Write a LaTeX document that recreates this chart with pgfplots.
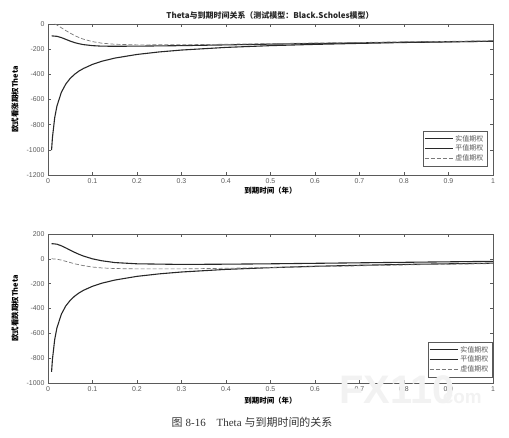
\documentclass[border=0pt]{standalone}
\usepackage{fontspec}
\setmainfont{Liberation Sans}
\newfontfamily\cjk{Noto Sans CJK SC}
\newfontfamily\capserif{Liberation Serif}
\usepackage{pgfplots}
\pgfplotsset{compat=1.18}

\definecolor{axgray}{RGB}{90,90,90}
\definecolor{curve}{RGB}{40,40,40}
\definecolor{dashgray}{RGB}{120,120,120}

\pgfplotsset{
  thetaax/.style={
    scale only axis,
    width=445bp,
    xmin=0, xmax=1,
    xtick={0,0.1,0.2,0.3,0.4,0.5,0.6,0.7,0.8,0.9,1},
    xticklabels={0,0.1,0.2,0.3,0.4,0.5,0.6,0.7,0.8,0.9,1},
    tick align=inside,
    major tick length=3bp,
    axis line style={axgray, line width=0.5pt},
    every tick/.style={axgray, line width=0.5pt},
    ticklabel style={font=\fontsize{7}{8}\selectfont, color=axgray},
    /pgf/number format/assume math mode=true,
    /pgf/number format/1000 sep={},
    x label style={at={(rel axis cs:0.5,0)}, anchor=center, font=\cjk\bfseries\fontsize{7.5}{8}\selectfont},
    y label style={at={(rel axis cs:0,0.5)}, anchor=center, rotate=0, yshift=33bp, font=\cjk\bfseries\fontsize{7.5}{8}\selectfont},
    xlabel={到期时间（年）},
    legend style={draw=axgray, line width=0.5pt, font=\cjk\fontsize{7}{8}\selectfont,
      cells={anchor=west}, row sep=-1.5pt, inner sep=1.5pt, text=axgray},
    legend image code/.code={\draw[#1] (0bp,0bp) -- (28bp,0bp);},
  }
}

\begin{document}
\begin{tikzpicture}[x=1bp,y=1bp]
\useasboundingbox (0,0) rectangle (509,-438);

\node[font=\cjk\bfseries\fontsize{8}{9}\selectfont, text=black!85] at (270,-15)
  {Theta与到期时间关系（测试模型：Black.Scholes模型）};

% upper panel: call theta
\begin{axis}[thetaax, height=151bp, at={(48bp,-24bp)}, anchor=north west,
  ymin=-1200, ymax=0, ytick={-1200,-1000,-800,-600,-400,-200,0},
  x label style={yshift=-16bp},
  ylabel={欧式看涨期权Theta},
  legend style={at={(1,0)}, anchor=south east, xshift=-6bp, yshift=9bp}]
\addplot[curve, line width=1.1pt] coordinates {
(0.008,-95) (0.01,-95) (0.02,-98) (0.03,-108) (0.04,-122) (0.05,-136)
(0.06,-148) (0.07,-157) (0.08,-164) (0.1,-172) (0.12,-176) (0.15,-177)
(0.2,-176) (0.3,-172) (0.4,-166) (0.5,-160) (0.6,-155) (0.7,-150)
(0.8,-145) (0.9,-141) (1,-137)};
\addlegendentry{实值期权}
\addplot[curve, line width=1.1pt] coordinates {
(0.008,-1002) (0.01,-902) (0.015,-746) (0.02,-653) (0.03,-543) (0.04,-477)
(0.05,-432) (0.06,-399) (0.07,-373) (0.08,-353) (0.1,-321) (0.12,-297)
(0.15,-271) (0.2,-242) (0.25,-222) (0.3,-207) (0.4,-186) (0.5,-172)
(0.6,-162) (0.7,-154) (0.8,-147) (0.9,-142) (1,-137)};
\addlegendentry{平值期权}
\addplot[dashgray, line width=0.7pt, dash pattern=on 4bp off 2bp] coordinates {
(0.015,0) (0.02,-8) (0.03,-30) (0.04,-52) (0.05,-73) (0.06,-92)
(0.07,-108) (0.08,-121) (0.1,-140) (0.12,-152) (0.15,-161) (0.2,-166)
(0.3,-165) (0.4,-161) (0.5,-156) (0.6,-151) (0.7,-147) (0.8,-142)
(0.9,-138) (1,-134)};
\addlegendentry{虚值期权}
\end{axis}

% lower panel: put theta
\begin{axis}[thetaax, height=149bp, at={(48bp,-234bp)}, anchor=north west,
  ymin=-1000, ymax=200, ytick={-1000,-800,-600,-400,-200,0,200},
  x label style={yshift=-18bp},
  ylabel={欧式看跌期权Theta},
  legend style={at={(1,0)}, anchor=south east, xshift=-1bp, yshift=6bp}]
\addplot[curve, line width=1.1pt] coordinates {
(0.008,120) (0.01,122) (0.02,118) (0.03,105) (0.04,88) (0.05,70)
(0.06,52) (0.07,36) (0.08,22) (0.1,0) (0.12,-15) (0.15,-30)
(0.2,-40) (0.3,-45) (0.4,-43) (0.5,-40) (0.6,-36) (0.7,-32)
(0.8,-28) (0.9,-24) (1,-20)};
\addlegendentry{实值期权}
\addplot[curve, line width=1.1pt] coordinates {
(0.008,-910) (0.01,-809) (0.015,-651) (0.02,-557) (0.03,-446) (0.04,-379)
(0.05,-334) (0.06,-300) (0.07,-274) (0.08,-253) (0.1,-221) (0.12,-197)
(0.15,-171) (0.2,-141) (0.25,-121) (0.3,-106) (0.4,-85) (0.5,-71)
(0.6,-60) (0.7,-52) (0.8,-45) (0.9,-40) (1,-35)};
\addlegendentry{平值期权}
\addplot[dashgray, line width=0.7pt, dash pattern=on 4bp off 2bp] coordinates {
(0.008,0) (0.01,0) (0.02,-3) (0.03,-10) (0.04,-20) (0.05,-30)
(0.06,-40) (0.08,-55) (0.1,-66) (0.12,-73) (0.15,-78) (0.2,-81)
(0.3,-81) (0.4,-76) (0.5,-70) (0.6,-63) (0.7,-56) (0.8,-49)
(0.9,-43) (1,-38)};
\addlegendentry{虚值期权}
\end{axis}

\node[text=black!5, font=\bfseries\fontsize{40}{40}\selectfont, anchor=base west] at (336,-403) {FX110};
\node[text=black!5, font=\bfseries\fontsize{19}{19}\selectfont, anchor=base west] at (434,-403) {.com};

\node[font=\fontsize{11}{12}\selectfont, text=black!80] at (252,-422)
  {{\cjk 图} {\capserif 8-16}\quad{\capserif Theta} {\cjk 与到期时间的关系}};
\end{tikzpicture}
\end{document}
